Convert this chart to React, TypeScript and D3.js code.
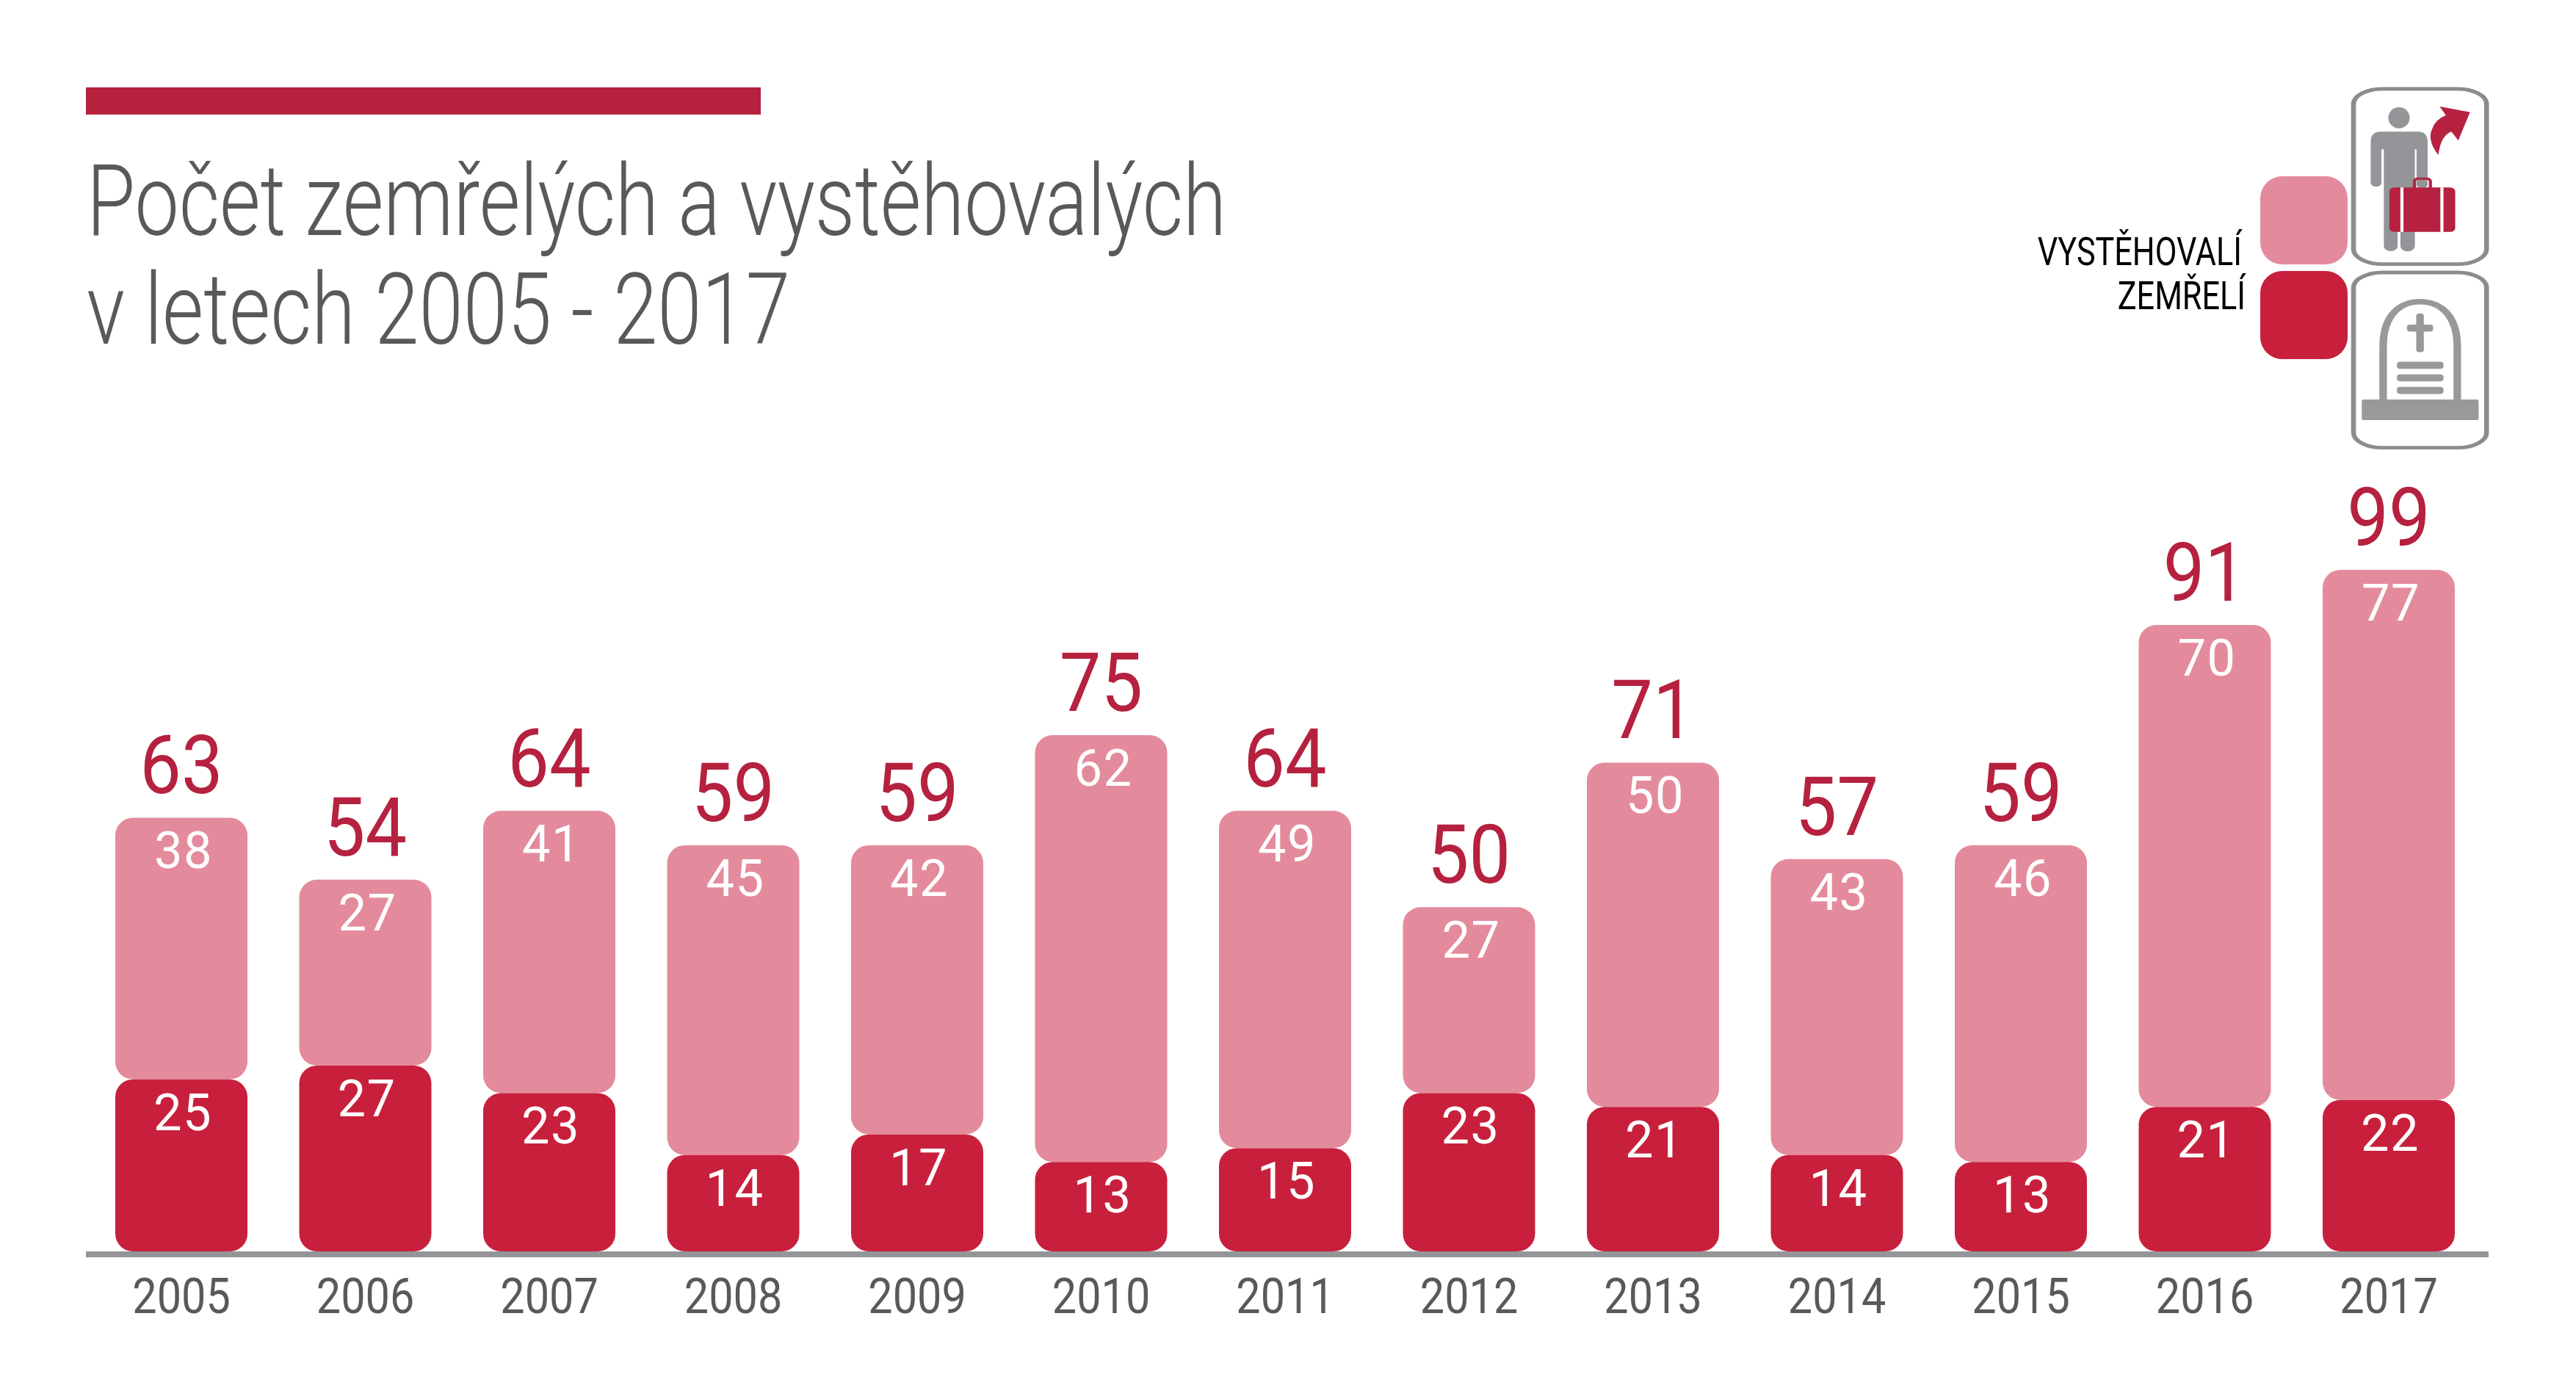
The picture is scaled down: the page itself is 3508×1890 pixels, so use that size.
import React, { useEffect, useRef } from 'react';
import * as d3 from 'd3';

const years = ['2005', '2006', '2007', '2008', '2009', '2010', '2011', '2012', '2013', '2014', '2015', '2016', '2017'];
const deaths = [25, 27, 23, 14, 17, 13, 15, 23, 21, 14, 13, 21, 22];
const emigrants = [38, 27, 41, 45, 42, 62, 49, 27, 50, 43, 46, 70, 77];
const totals = [63, 54, 64, 59, 59, 75, 64, 50, 71, 57, 59, 91, 99];
const titleLines = ['Počet zemřelých a vystěhovalých', 'v letech 2005 - 2017'];

const DARK = '#c8203c';
const LIGHT = '#e38b9c';
const WINE = '#b5213f';
const GREY = '#58595b';
const ICON = '#939598';
const FONT = 'Roboto, sans-serif';

const App = () => {
    const ref = useRef<SVGSVGElement>(null);

    useEffect(() => {
        const svg: any = d3.select(ref.current);
        svg.selectAll('*').remove();

        const baseline = 1704;
        const x = d3.scaleBand().domain(years).range([157, 3343]).paddingInner(70.5 / 250.5).paddingOuter(0);
        const y = d3.scaleLinear().domain([0, 99]).range([baseline, 776]);

        // header
        svg.append('rect').attr('x', 117).attr('y', 119).attr('width', 919).attr('height', 37).attr('fill', WINE);
        const titleLens = [1552, 958];
        titleLines.forEach((line, i) => {
            svg.append('text')
                .attr('x', 118)
                .attr('y', 320 + i * 148)
                .attr('font-family', FONT)
                .attr('font-weight', 300)
                .attr('font-size', 136)
                .attr('fill', GREY)
                .attr('textLength', titleLens[i])
                .attr('lengthAdjust', 'spacingAndGlyphs')
                .text(line);
        });

        // bars
        const bar = svg.selectAll('.bar')
            .data(years)
            .enter().append('g')
            .attr('class', 'bar')
            .attr('transform', (d: string) => 'translate(' + x(d) + ',0)');

        const w = x.bandwidth();
        bar.append('rect')
            .attr('width', w)
            .attr('y', (_: string, i: number) => y(totals[i]))
            .attr('height', (_: string, i: number) => y(deaths[i]) - y(totals[i]))
            .attr('rx', 24)
            .attr('fill', LIGHT);
        bar.append('rect')
            .attr('width', w)
            .attr('y', (_: string, i: number) => y(deaths[i]))
            .attr('height', (_: string, i: number) => baseline - y(deaths[i]))
            .attr('rx', 24)
            .attr('fill', DARK);

        const label = (yy: (i: number) => number, size: number, sx: number, dx: number, fill: string, weight: number, spacing: number, txt: (i: number) => number) => {
            bar.append('text')
                .attr('transform', (_: string, i: number) => 'translate(' + (w / 2 + dx) + ',' + yy(i) + ') scale(' + sx + ',1)')
                .attr('text-anchor', 'middle')
                .attr('font-family', FONT)
                .attr('font-size', size)
                .attr('font-weight', weight)
                .attr('letter-spacing', spacing)
                .attr('fill', fill)
                .text((_: string, i: number) => txt(i));
        };
        label((i) => y(totals[i]) - 33, 112, 0.9, 0, WINE, 400, 0, (i) => totals[i]);
        label((i) => y(totals[i]) + 69, 70, 0.98, 3, '#ffffff', 400, 1.5, (i) => emigrants[i]);
        label((i) => y(deaths[i]) + 69, 70, 0.98, 2, '#ffffff', 400, 1.5, (i) => deaths[i]);

        // axis
        const axis = svg.append('g')
            .attr('transform', 'translate(0,' + baseline + ')')
            .call(d3.axisBottom(x).tickSize(0));
        axis.select('.domain').remove();
        axis.selectAll('text')
            .attr('font-family', FONT)
            .attr('font-size', 66)
            .attr('fill', GREY)
            .attr('dy', 0)
            .attr('y', 84)
            .attr('transform', 'scale(0.9,1)');
        svg.append('rect').attr('x', 117).attr('y', baseline).attr('width', 3272).attr('height', 8).attr('fill', ICON);

        // legend
        const legendText = ['VYSTĚHOVALÍ', 'ZEMŘELÍ'];
        const legendColor = [LIGHT, DARK];
        legendText.forEach((t, i) => {
            svg.append('rect')
                .attr('x', 3078).attr('y', 240 + i * 129)
                .attr('width', 119).attr('height', 120)
                .attr('rx', 30).attr('fill', legendColor[i]);
            svg.append('text')
                .attr('transform', 'translate(' + (3053 + i * 5) + ',' + (361 + i * 60) + ') scale(0.8,1)')
                .attr('text-anchor', 'end')
                .attr('font-family', FONT)
                .attr('font-size', 54)
                .attr('fill', '#000000')
                .text(t);
        });

        // icons, drawn in crop coordinates
        const icon = svg.append('g')
            .attr('transform', 'translate(' + (3205 - 1072 / 2.13) + ',' + (121 - 85 / 2.92) + ') scale(' + (1 / 2.13) + ',' + (1 / 2.92) + ')');
        [85, 815].forEach((top) => {
            icon.append('rect')
                .attr('x', 1072).attr('y', top)
                .attr('width', 386).attr('height', 697)
                .attr('rx', 85).attr('ry', 60)
                .attr('fill', '#ffffff').attr('stroke', '#8c8c8c').attr('stroke-width', 14);
        });
        icon.append('ellipse').attr('cx', 1204).attr('cy', 200).attr('rx', 31).attr('ry', 42).attr('fill', ICON);
        icon.append('path')
            .attr('d', 'M1150 255H1258Q1287 255 1287 295V465A16 16 0 0 1 1255 465V325H1250V710A20 20 0 0 1 1208 710V560H1200V710A20 20 0 0 1 1160 710V325H1153V462A16 16 0 0 1 1122 462V295Q1122 255 1150 255Z')
            .attr('fill', ICON);
        icon.append('rect').attr('x', 1249).attr('y', 442).attr('width', 46).attr('height', 44).attr('rx', 10)
            .attr('fill', 'none').attr('stroke', WINE).attr('stroke-width', 9);
        icon.append('rect').attr('x', 1176).attr('y', 477).attr('width', 191).attr('height', 177).attr('rx', 15).attr('fill', WINE);
        [1208, 1324].forEach((sx) => {
            icon.append('rect').attr('x', sx).attr('y', 477).attr('width', 9).attr('height', 177).attr('fill', '#ffffff');
        });
        icon.append('path')
            .attr('d', 'M1322 155L1410 178L1376 290L1356 255Q1325 270 1318 348Q1285 290 1300 245Q1310 205 1340 190Z')
            .attr('fill', WINE);
        icon.append('path')
            .attr('d', 'M1158 1330V1110C1158 980 1210 931 1265 931C1320 931 1373 980 1373 1110V1330')
            .attr('fill', 'none').attr('stroke', '#999999').attr('stroke-width', 22);
        icon.append('rect').attr('x', 1254).attr('y', 978).attr('width', 22).attr('height', 154).attr('rx', 10).attr('fill', '#999999');
        icon.append('rect').attr('x', 1227).attr('y', 1022).attr('width', 76).attr('height', 28).attr('rx', 10).attr('fill', '#999999');
        [1170, 1220, 1270].forEach((ly) => {
            icon.append('rect').attr('x', 1198).attr('y', ly).attr('width', 135).attr('height', 28).attr('rx', 10).attr('fill', '#999999');
        });
        icon.append('rect').attr('x', 1096).attr('y', 1320).attr('width', 339).attr('height', 82).attr('rx', 6).attr('fill', '#999999');
    }, []);

    return <svg ref={ref} width={3508} height={1890} style={{ position: 'absolute', left: 0, top: 0, background: '#ffffff' }} />;
};

export default App;
